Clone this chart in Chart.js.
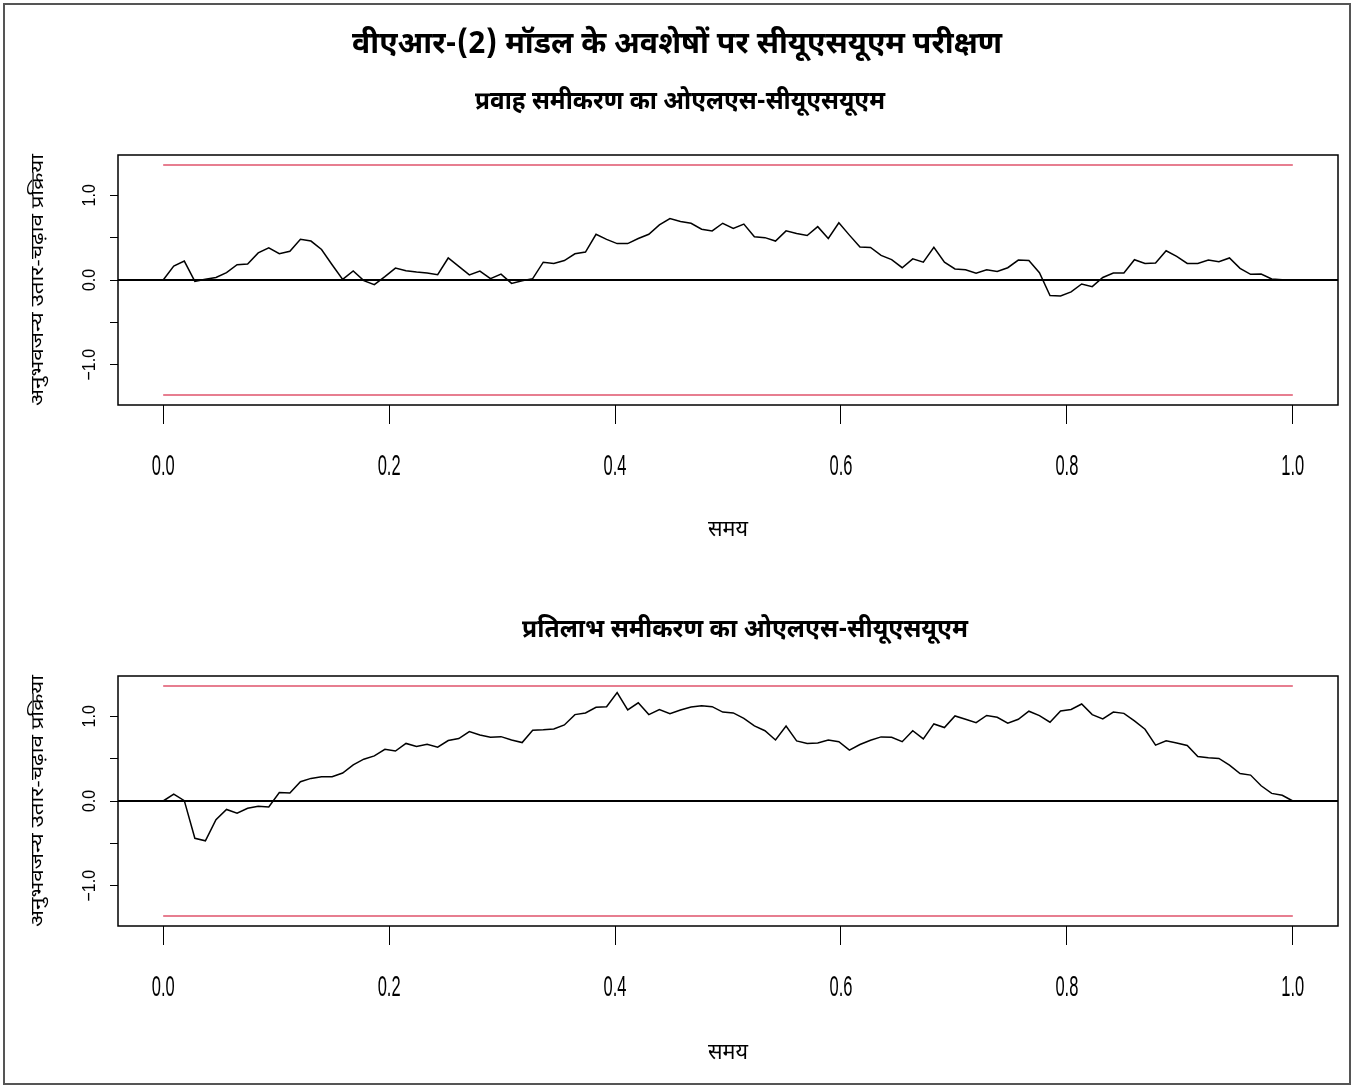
<!DOCTYPE html>
<html>
<head>
<meta charset="utf-8">
<title>वीएआर-(2) मॉडल के अवशेषों पर सीयूएसयूएम परीक्षण</title>
<script src="https://cdn.jsdelivr.net/npm/chart.js@4.4.1/dist/chart.umd.min.js"></script>
<style>
  html, body { margin: 0; padding: 0; background: #ffffff; }
  #wrap { position: relative; width: 1354px; height: 1088px; overflow: hidden; background: #fff; }
  #wrap canvas { position: absolute; left: 0; }
  #frame { position: absolute; left: 3px; top: 3px; width: 1348px; height: 1082px;
           border: 2px solid #555; box-sizing: border-box; pointer-events: none; }
</style>
</head>
<body>
<div id="wrap">
  <canvas id="flowPanel" width="1354" height="560" style="top:0px"></canvas>
  <canvas id="returnPanel" width="1354" height="528" style="top:560px"></canvas>
  <div id="frame"></div>
</div>
<script>
// OLS-CUSUM empirical fluctuation processes of the VAR(2) residuals
const mainTitle = 'वीएआर-(2) मॉडल के अवशेषों पर सीयूएसयूएम परीक्षण';
const flowTitle = 'प्रवाह समीकरण का ओएलएस-सीयूएसयूएम';
const returnTitle = 'प्रतिलाभ समीकरण का ओएलएस-सीयूएसयूएम';
const xAxisTitle = 'समय';
const yAxisTitle = 'अनुभवजन्य उतार-चढ़ाव प्रक्रिया';

const xTickValues = [0, 0.2, 0.4, 0.6, 0.8, 1.0];
const xTickLabels = ['0.0', '0.2', '0.4', '0.6', '0.8', '1.0'];
const yTickValues = [-1.0, -0.5, 0, 0.5, 1.0];
const yTickLabels = ['\u22121.0', '', '0.0', '', '1.0'];

// 5% critical boundary of the OLS-CUSUM test
const criticalBound = 1.358;
const nIntervals = 107;

// flow equation process
const flowCusum = [
  0, 0.165, 0.224, -0.016, 0.008, 0.03, 0.086, 0.18, 0.188, 0.32,
  0.38, 0.31, 0.34, 0.48, 0.46, 0.36, 0.18, 0.008, 0.106, -0.008,
  -0.055, 0.04, 0.14, 0.11, 0.094, 0.082, 0.063, 0.26,
  0.16, 0.06, 0.106, 0.016, 0.07, -0.04, -0.008, 0.016, 0.21, 0.196,
  0.23, 0.31, 0.33, 0.54, 0.48, 0.43, 0.43, 0.49, 0.54, 0.65,
  0.725, 0.69, 0.67, 0.60, 0.58, 0.67, 0.61,
  0.66, 0.51, 0.50, 0.46, 0.58, 0.55, 0.525, 0.63, 0.49, 0.675,
  0.53, 0.39, 0.385, 0.29, 0.24, 0.145, 0.25, 0.21, 0.385, 0.21,
  0.13, 0.12, 0.08, 0.12, 0.10, 0.145, 0.235, 0.23,
  0.086, -0.184, -0.188, -0.14, -0.047, -0.078, 0.03, 0.082, 0.082, 0.24,
  0.196, 0.20, 0.345, 0.28, 0.196, 0.196, 0.235, 0.215, 0.26, 0.137,
  0.067, 0.07, 0.012, 0.004, 0
];

// return equation process
const returnCusum = [
  0, 0.082, 0.004, -0.44, -0.47, -0.22, -0.10, -0.145, -0.086, -0.063,
  -0.07, 0.10, 0.094, 0.227, 0.267, 0.286, 0.286, 0.33, 0.427, 0.494,
  0.533, 0.61, 0.59, 0.68, 0.643, 0.67, 0.635, 0.714,
  0.737, 0.82, 0.78, 0.753, 0.76, 0.72, 0.69, 0.835, 0.84, 0.85,
  0.898, 1.02, 1.04, 1.106, 1.114, 1.28, 1.075, 1.16, 1.02, 1.08,
  1.03, 1.075, 1.11, 1.125, 1.114, 1.05, 1.04,
  0.976, 0.886, 0.83, 0.72, 0.886, 0.71, 0.68, 0.686, 0.72, 0.70,
  0.60, 0.667, 0.718, 0.757, 0.753, 0.70, 0.83, 0.733, 0.91, 0.867,
  1.004, 0.965, 0.925, 1.01, 0.988, 0.92, 0.965, 1.06,
  1.008, 0.93, 1.063, 1.08, 1.145, 1.02, 0.97, 1.05, 1.035, 0.945,
  0.847, 0.66, 0.71, 0.686, 0.655, 0.525, 0.51, 0.502, 0.424, 0.325,
  0.306, 0.18, 0.09, 0.067, 0
];

const X_MIN = -0.04, X_MAX = 1.04;
const Y_MIN = -1.476, Y_MAX = 1.476;
const DEVA = '"Noto Sans Devanagari", "Lohit Devanagari", "Noto Sans", "FreeSans", sans-serif';
const LATIN = '"Liberation Sans", Arial, sans-serif';
const BOUND_RED = '#DF536B';
const Y_AXIS_W = 60, X_AXIS_H = 100;

// horizontal text drawn narrow and tall
function drawNarrow(ctx, text, x, y, font, sx, fitWidth) {
  ctx.save();
  ctx.font = font;
  let s = sx;
  if (fitWidth) s = fitWidth / ctx.measureText(text).width;
  ctx.translate(x, y);
  ctx.scale(s, 1);
  ctx.textAlign = 'center';
  ctx.textBaseline = 'middle';
  ctx.fillStyle = '#000';
  ctx.fillText(text, 0, 0);
  ctx.restore();
}

// vertical text reading bottom to top; thick widens the glyph height
function drawVertical(ctx, text, x, y, font, fitLength, thick) {
  ctx.save();
  ctx.font = font;
  ctx.translate(x, y);
  ctx.rotate(-Math.PI / 2);
  const sl = fitLength ? fitLength / ctx.measureText(text).width : 1;
  ctx.scale(sl, thick || 1);
  ctx.textAlign = 'center';
  ctx.textBaseline = 'middle';
  ctx.fillStyle = '#000';
  ctx.fillText(text, 0, 0);
  ctx.restore();
}

function makePanel(canvasId, series, cfg) {
  const times = series.map((_, i) => i / nIntervals);
  const annotate = {
    id: 'panelText',
    afterDraw(chart) {
      const ctx = chart.ctx;
      const a = chart.chartArea;
      const xs = chart.scales.x, ys = chart.scales.y;
      // plot box
      ctx.save();
      ctx.strokeStyle = '#000';
      ctx.lineWidth = 1.5;
      ctx.strokeRect(a.left, a.top, a.right - a.left, a.bottom - a.top);
      ctx.restore();
      // tick labels
      xTickValues.forEach((v, i) => {
        drawNarrow(ctx, xTickLabels[i], xs.getPixelForValue(v), a.bottom + 62, '30px ' + LATIN, 0.55);
      });
      yTickValues.forEach((v, i) => {
        if (yTickLabels[i]) drawVertical(ctx, yTickLabels[i], a.left - 28, ys.getPixelForValue(v), '16px ' + LATIN, 0, 1.2);
      });
      // axis titles
      drawNarrow(ctx, xAxisTitle, (a.left + a.right) / 2, a.bottom + cfg.xTitleGap, '22px ' + DEVA, 1, 40);
      drawVertical(ctx, yAxisTitle, 40, (a.top + a.bottom) / 2, '17px ' + DEVA, 252);
      // titles
      cfg.titles.forEach(t => drawNarrow(ctx, t.text, t.x, t.y, 'bold ' + t.size + 'px ' + DEVA, 1, t.width));
    }
  };
  return new Chart(document.getElementById(canvasId), {
    type: 'line',
    data: {
      datasets: [
        { data: series.map((v, i) => ({ x: times[i], y: v })), borderColor: '#000', borderWidth: 1.5,
          pointRadius: 0, tension: 0, fill: false },
        { data: [{ x: 0, y: criticalBound }, { x: 1, y: criticalBound }], borderColor: BOUND_RED,
          borderWidth: 1.6, pointRadius: 0, fill: false },
        { data: [{ x: 0, y: -criticalBound }, { x: 1, y: -criticalBound }], borderColor: BOUND_RED,
          borderWidth: 1.6, pointRadius: 0, fill: false },
        { data: [{ x: X_MIN, y: 0 }, { x: X_MAX, y: 0 }], borderColor: '#000', borderWidth: 2,
          pointRadius: 0, fill: false }
      ]
    },
    options: {
      responsive: false,
      animation: false,
      devicePixelRatio: 1,
      layout: { padding: { left: cfg.left - Y_AXIS_W, right: 16, top: cfg.top, bottom: cfg.height - cfg.bottom - X_AXIS_H } },
      plugins: { legend: { display: false }, tooltip: { enabled: false }, title: { display: false } },
      scales: {
        x: {
          type: 'linear', min: X_MIN, max: X_MAX,
          afterBuildTicks: s => { s.ticks = xTickValues.map(v => ({ value: v })); },
          afterFit: s => { s.height = X_AXIS_H; },
          ticks: { display: false },
          border: { display: false },
          grid: { drawOnChartArea: false, drawTicks: true, tickLength: 19, color: '#000', lineWidth: 1 }
        },
        y: {
          type: 'linear', min: Y_MIN, max: Y_MAX,
          afterBuildTicks: s => { s.ticks = yTickValues.map(v => ({ value: v })); },
          afterFit: s => { s.width = Y_AXIS_W; },
          ticks: { display: false },
          border: { display: false },
          grid: { drawOnChartArea: false, drawTicks: true, tickLength: 8, color: '#000', lineWidth: 1 }
        }
      }
    },
    plugins: [annotate]
  });
}

makePanel('flowPanel', flowCusum, {
  left: 118, top: 155, bottom: 405, height: 560, xTitleGap: 127,
  titles: [
    { text: mainTitle, x: 677, y: 47, size: 30, width: 650 },
    { text: flowTitle, x: 680, y: 104, size: 25, width: 410 }
  ]
});

makePanel('returnPanel', returnCusum, {
  left: 118, top: 116, bottom: 366, height: 528, xTitleGap: 129,
  titles: [
    { text: returnTitle, x: 745, y: 72, size: 25, width: 446 }
  ]
});
</script>
</body>
</html>
